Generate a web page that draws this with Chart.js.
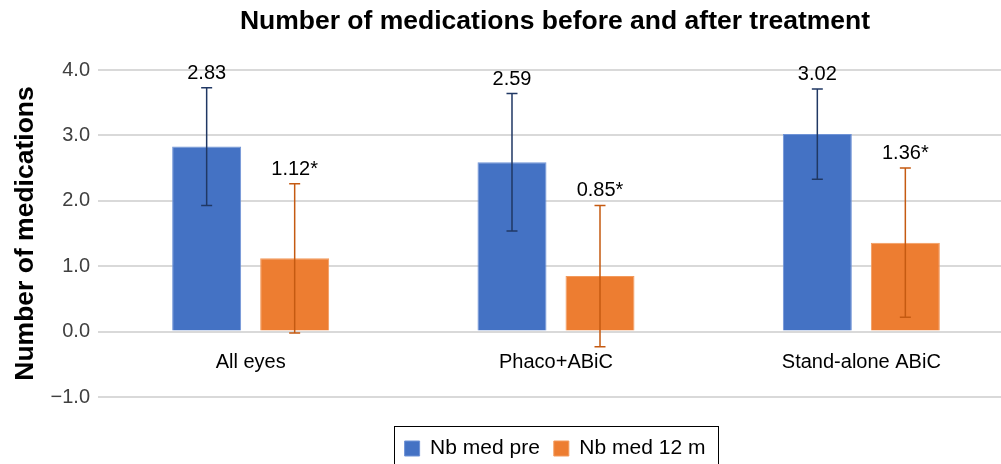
<!DOCTYPE html>
<html>
<head>
<meta charset="utf-8">
<script src="https://cdn.jsdelivr.net/npm/chart.js@4.4.1/dist/chart.umd.min.js"></script>
<style>
  html, body { margin: 0; padding: 0; background: #fff; width: 1001px; height: 464px; overflow: hidden; }
  #wrap { position: absolute; left: 0; top: 0; width: 1110px; height: 469px; }
</style>
</head>
<body>
<div id="wrap"><canvas id="c" width="1110" height="469"></canvas></div>
<script>
const chartTitle = 'Number of medications before and after treatment';
const yAxisTitle = 'Number of medications';
const categories = ['All eyes', 'Phaco+ABiC', 'Stand-alone ABiC'];
const seriesNames = ['Nb med pre', 'Nb med 12 m'];
const preValues = [2.83, 2.59, 3.02];
const postValues = [1.12, 0.85, 1.36];
const preErrors = [0.90, 1.05, 0.69];
const postErrors = [1.14, 1.08, 1.14];
const preLabels = ['2.83', '2.59', '3.02'];
const postLabels = ['1.12*', '0.85*', '1.36*'];
const yMin = -1, yMax = 4, yStep = 1;

const FONT = '"Liberation Sans", Arial, Helvetica, sans-serif';

const errorBarPlugin = {
  id: 'errorBars',
  afterDatasetsDraw(chart) {
    const ctx = chart.ctx;
    const yScale = chart.scales.y;
    const xScale = chart.scales.x;
    chart.data.datasets.forEach((ds, d) => {
      const meta = chart.getDatasetMeta(d);
      meta.data.forEach((el, i) => {
        const v = ds.data[i];
        const e = ds.errors[i];
        const x = el.x;
        const yt = yScale.getPixelForValue(v + e);
        const yb = yScale.getPixelForValue(v - e);
        ctx.save();
        ctx.strokeStyle = ds.errorColor;
        ctx.lineWidth = 1.5;
        ctx.beginPath();
        ctx.moveTo(x, yt); ctx.lineTo(x, yb);
        ctx.moveTo(x - 5.5, yt); ctx.lineTo(x + 5.5, yt);
        ctx.moveTo(x - 5.5, yb); ctx.lineTo(x + 5.5, yb);
        ctx.stroke();
        ctx.fillStyle = '#000';
        ctx.font = '20px ' + FONT;
        ctx.textAlign = 'center';
        ctx.textBaseline = 'alphabetic';
        ctx.fillText(ds.valueLabels[i], x, yt - 9);
        ctx.restore();
      });
    });
    // category labels placed under the zero line
    const y0 = yScale.getPixelForValue(0);
    ctx.save();
    ctx.fillStyle = '#000';
    ctx.font = '20px ' + FONT;
    ctx.textAlign = 'center';
    ctx.textBaseline = 'alphabetic';
    categories.forEach((c, i) => {
      ctx.fillText(c, xScale.getPixelForValue(i), y0 + 36);
    });
    ctx.restore();
  },
  afterDraw(chart) {
    const lg = chart.legend;
    if (!lg || !lg.legendHitBoxes || !lg.legendHitBoxes.length) return;
    const hb = lg.legendHitBoxes;
    const first = hb[0], last = hb[hb.length - 1];
    const ctx = chart.ctx;
    ctx.save();
    ctx.strokeStyle = '#000';
    ctx.lineWidth = 1;
    const l = Math.round(first.left - 11) + 0.5;
    const r = Math.round(last.left + last.width + 13) + 0.5;
    const t = Math.round(first.top - 12) + 0.5;
    const b = Math.round(first.top + first.height + 30) + 0.5;
    ctx.strokeRect(l, t, r - l, b - t);
    ctx.restore();
  }
};

new Chart(document.getElementById('c'), {
  type: 'bar',
  data: {
    labels: categories,
    datasets: [
      {
        label: seriesNames[0],
        data: preValues,
        errors: preErrors,
        valueLabels: preLabels,
        errorColor: '#203864',
        backgroundColor: '#4472C4',
        borderColor: '#6f93d6',
        borderWidth: 1,
        categoryPercentage: 0.5765,
        barPercentage: 0.784
      },
      {
        label: seriesNames[1],
        data: postValues,
        errors: postErrors,
        valueLabels: postLabels,
        errorColor: '#C55A11',
        backgroundColor: '#ED7D31',
        borderColor: '#f39a5c',
        borderWidth: 1,
        categoryPercentage: 0.5765,
        barPercentage: 0.784
      }
    ]
  },
  options: {
    responsive: false,
    animation: false,
    devicePixelRatio: 1,
    layout: { padding: 0 },
    plugins: {
      title: {
        display: true,
        text: chartTitle,
        color: '#000',
        font: { family: FONT, size: 26.5, weight: 'bold' },
        padding: { top: 6, bottom: 32.2 }
      },
      legend: {
        display: true,
        position: 'bottom',
        labels: {
          color: '#000',
          font: { family: FONT, size: 21 },
          boxWidth: 15,
          boxHeight: 15,
          padding: 14
        }
      },
      tooltip: { enabled: false }
    },
    scales: {
      x: {
        display: true,
        grid: { display: false },
        border: { display: false },
        ticks: { display: false },
        afterFit: (s) => { s.height = 27; }
      },
      y: {
        min: yMin,
        max: yMax,
        grid: { color: '#d9d9d9', lineWidth: 2, drawTicks: false },
        border: { display: false },
        ticks: {
          stepSize: yStep,
          padding: 8,
          color: '#404040',
          font: { family: FONT, size: 20 },
          callback: (v) => (v < 0 ? '\u2212' : '') + Math.abs(v).toFixed(1)
        },
        title: {
          display: true,
          text: yAxisTitle,
          color: '#000',
          font: { family: FONT, size: 26.5, weight: 'bold' },
          padding: { top: 9.5, bottom: 0 }
        },
        afterFit: (s) => { s.width = 98; }
      },
      yRight: {
        position: 'right',
        display: true,
        min: yMin,
        max: yMax,
        grid: { display: false, drawOnChartArea: false },
        border: { display: false },
        ticks: { display: false },
        afterFit: (s) => { s.width = 96; }
      }
    }
  },
  plugins: [errorBarPlugin]
});
</script>
</body>
</html>
